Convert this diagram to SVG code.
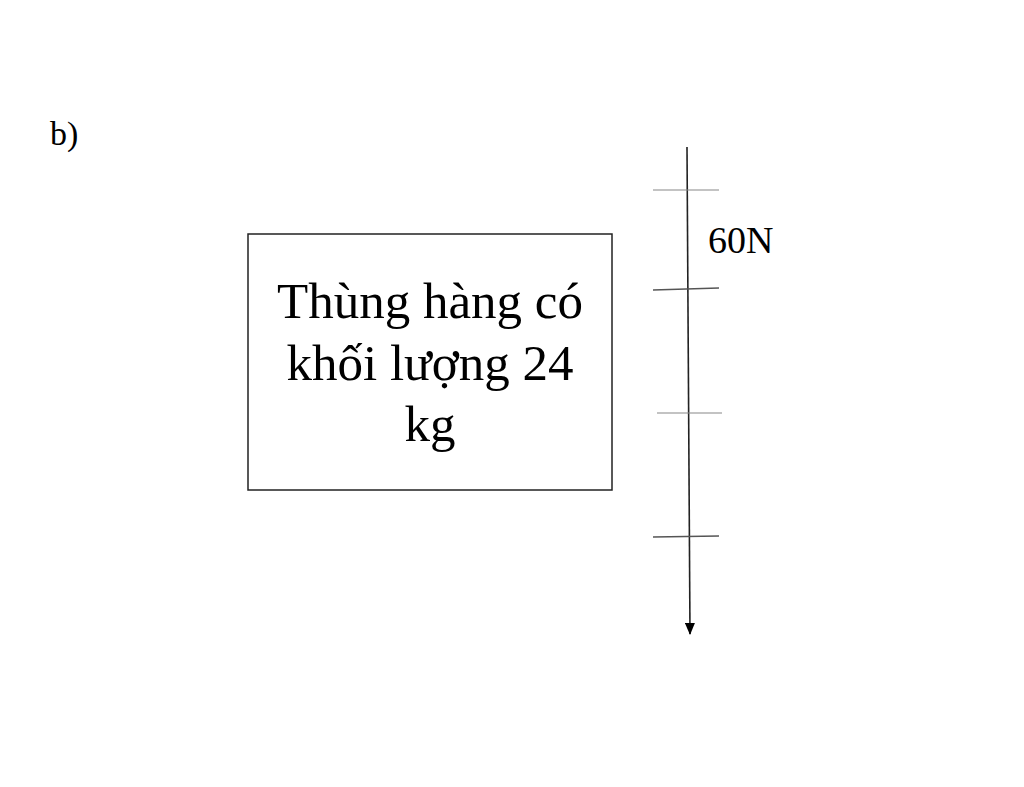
<svg xmlns="http://www.w3.org/2000/svg" width="1024" height="787" viewBox="0 0 1024 787">
<defs>
<style>
text{font-family:"Liberation Serif","Times New Roman",serif;fill:#000}
.tick{stroke:#888;stroke-width:1.2}
.tickd{stroke:#555;stroke-width:1.5}
</style>
<marker id="arr" markerWidth="12" markerHeight="10" refX="11" refY="5" orient="auto" markerUnits="userSpaceOnUse" viewBox="0 0 12 10">
<path d="M0,0 L12,5 L0,10 Z" fill="#000"/>
</marker>
</defs>
<rect width="1024" height="787" fill="#fff"/>
<text x="50" y="145" font-size="34">b)</text>
<g id="box">
<rect x="248" y="234" width="364" height="256" fill="#fff" stroke="#222" stroke-width="1.5"/>
<text x="430" y="318" font-size="51" text-anchor="middle">Thùng hàng có</text>
<text x="430" y="380" font-size="51" text-anchor="middle">khối lượng 24</text>
<text x="430" y="441" font-size="51" text-anchor="middle">kg</text>
</g>
<g id="connectors">
<line x1="687" y1="147" x2="690" y2="634" stroke="#222" stroke-width="1.6" marker-end="url(#arr)"/>
<line class="tick" x1="653" y1="190" x2="719" y2="190"/>
<line class="tickd" x1="653" y1="290" x2="719" y2="288"/>
<line class="tick" x1="657" y1="413" x2="722" y2="413"/>
<line class="tickd" x1="653" y1="537" x2="719" y2="536"/>
</g>
<text x="708" y="253" font-size="38">60N</text>
</svg>
